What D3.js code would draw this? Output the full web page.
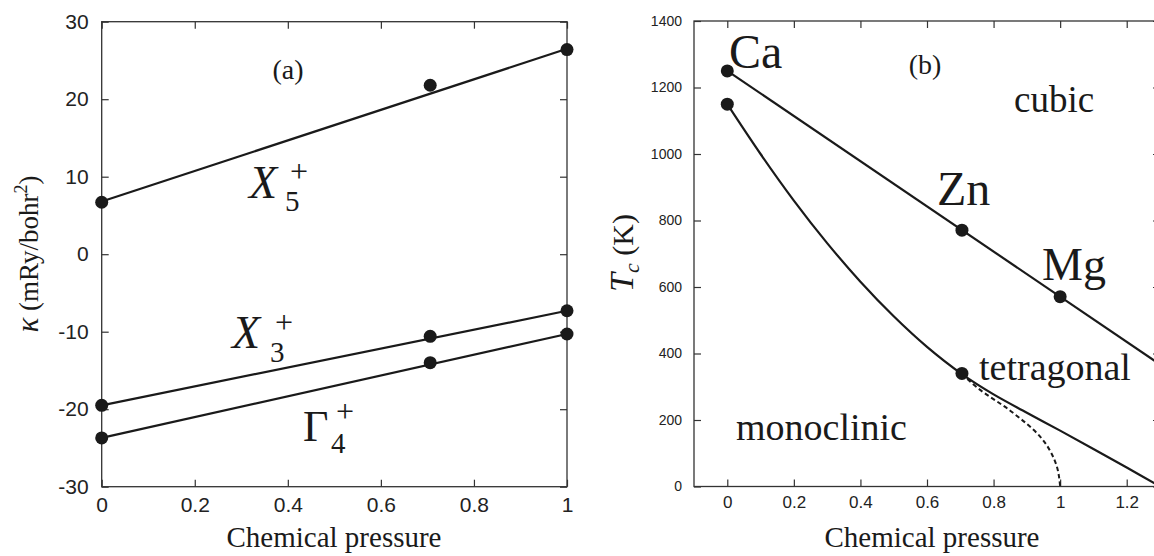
<!DOCTYPE html>
<html>
<head>
<meta charset="utf-8">
<script src="https://cdn.jsdelivr.net/npm/d3@7"></script>
<style>
  body { margin: 0; background: #fff; }
  svg { display: block; }
  .tick text { font-family: 'Liberation Sans', Arial, sans-serif; fill: #222; }
  .tick line { stroke: #333; stroke-width: 1.2; }
  .domain { display: none; }
  .lbl { font-family: 'Liberation Serif', 'DejaVu Serif', serif; fill: #1a1a1a; }
</style>
</head>
<body>
<svg id="chart" width="1154" height="556"></svg>
<script>
// panel (a): force constants vs chemical pressure
const pressureA = [0, 0.706, 1];
const kappaX5 = [6.7, 21.8, 26.4];
const kappaX3 = [-19.5, -10.6, -7.3];
const kappaG4 = [-23.7, -14.0, -10.3];
const fitX = [0, 1];
const fitX5 = [6.8, 26.5];
const fitX3 = [-19.5, -7.3];
const fitG4 = [-23.7, -10.3];
const ticksXA = [0, 0.2, 0.4, 0.6, 0.8, 1];
const ticksYA = [-30, -20, -10, 0, 10, 20, 30];

// panel (b): transition temperatures
const elements = ['Ca', 'Zn', 'Mg'];
const pressureB = [0, 0.705, 1];
const tcCubic = [1250, 771, 571];
const tcTetraX = [0, 0.705];
const tcTetra = [1150, 340];
const cubicLineX = [0, 1.3];
const cubicLineT = [1250, 367];
const tetraCurveX = [0, 0.1, 0.2, 0.3, 0.4, 0.5, 0.6, 0.705, 0.8, 0.9, 1.0, 1.1, 1.2, 1.3];
const tetraCurveT = [1150, 1000, 860, 732, 616, 512, 420, 338, 277, 222, 168, 113, 57, 0];
const monoCurveX = [0.705, 0.75, 0.85, 0.94, 0.985, 1.0];
const monoCurveT = [338, 298, 228, 150, 75, 0];
const ticksXB = [0, 0.2, 0.4, 0.6, 0.8, 1, 1.2];
const ticksYB = [0, 200, 400, 600, 800, 1000, 1200, 1400];

const svg = d3.select('#chart');
const fmt = (d) => d3.format('~g')(d).replace('\u2212', '-');

function frame(g, x, y, xTicks, yTicks, fsX, fsY, padX, padY) {
  const [x0, x1] = x.range();
  const [y0, y1] = y.range();
  g.append('g').attr('transform', `translate(0,${y0})`)
    .call(d3.axisBottom(x).tickValues(xTicks).tickFormat(fmt).tickSizeInner(-7).tickSizeOuter(0).tickPadding(padX))
    .selectAll('text').style('font-size', fsX + 'px');
  g.append('g').attr('transform', `translate(0,${y1})`)
    .call(d3.axisTop(x).tickValues(xTicks).tickFormat('').tickSizeInner(-7).tickSizeOuter(0));
  g.append('g').attr('transform', `translate(${x0},0)`)
    .call(d3.axisLeft(y).tickValues(yTicks).tickFormat(fmt).tickSizeInner(-7).tickSizeOuter(0).tickPadding(padY))
    .selectAll('text').style('font-size', fsY + 'px');
  g.append('g').attr('transform', `translate(${x1},0)`)
    .call(d3.axisRight(y).tickValues(yTicks).tickFormat('').tickSizeInner(-7).tickSizeOuter(0));
  g.append('rect').attr('x', x0).attr('y', y1).attr('width', x1 - x0).attr('height', y0 - y1)
    .attr('fill', 'none').attr('stroke', '#333').attr('stroke-width', 1.3);
}

function label(g, x, y, text, size, opts = {}) {
  return g.append('text').attr('class', 'lbl').attr('x', x).attr('y', y)
    .attr('text-anchor', opts.anchor || 'start')
    .style('font-size', size + 'px')
    .style('font-style', opts.italic ? 'italic' : 'normal')
    .text(text);
}

// ---------- panel (a)
const xA = d3.scaleLinear().domain([0, 1]).range([101.7, 567]);
const yA = d3.scaleLinear().domain([-30, 30]).range([486.7, 21.7]);
const gA = svg.append('g');
frame(gA, xA, yA, ticksXA, ticksYA, 21, 21, 10, 13);

const lineA = d3.line().x((d) => xA(d[0])).y((d) => yA(d[1]));
[fitX5, fitX3, fitG4].forEach((f) => {
  gA.append('path').datum(fitX.map((v, i) => [v, f[i]])).attr('d', lineA)
    .attr('fill', 'none').attr('stroke', '#1a1a1a').attr('stroke-width', 2.2);
});
[kappaX5, kappaX3, kappaG4].forEach((s) => {
  gA.selectAll(null).data(pressureA.map((v, i) => [v, s[i]])).join('circle')
    .attr('cx', (d) => xA(d[0])).attr('cy', (d) => yA(d[1])).attr('r', 6.5).attr('fill', '#1a1a1a');
});

label(gA, 288, 79, '(a)', 28, { anchor: 'middle' });
label(gA, 249, 198, 'X', 46, { italic: true });
label(gA, 285, 211, '5', 29);
label(gA, 290, 182, '+', 32);
label(gA, 232, 348, 'X', 46, { italic: true });
label(gA, 270, 362, '3', 29);
label(gA, 275, 333, '+', 32);
label(gA, 303, 441, 'Γ', 44);
label(gA, 331, 453, '4', 29);
label(gA, 336, 422, '+', 32);
label(gA, 334, 547, 'Chemical pressure', 29, { anchor: 'middle' });

const yLabA = gA.append('text').attr('class', 'lbl')
  .attr('transform', 'translate(38,254) rotate(-90)')
  .attr('text-anchor', 'middle').style('font-size', '27px');
yLabA.append('tspan').style('font-style', 'italic').style('font-size', '31px').text('κ');
yLabA.append('tspan').text(' (mRy/bohr');
yLabA.append('tspan').attr('dy', -11).style('font-size', '18px').text('2');
yLabA.append('tspan').attr('dy', 11).text(')');

// ---------- panel (b)
const xB = d3.scaleLinear().domain([-0.1, 1.3]).range([694, 1160]);
const yB = d3.scaleLinear().domain([0, 1400]).range([486.5, 21]);
const gB = svg.append('g');
svg.append('clipPath').attr('id', 'clipB').append('rect')
  .attr('x', 694).attr('y', 21).attr('width', 466).attr('height', 465.5);
frame(gB, xB, yB, ticksXB, ticksYB, 17, 14, 9, 12);

const lineB = d3.line().x((d) => xB(d[0])).y((d) => yB(d[1]));
const curves = gB.append('g').attr('clip-path', 'url(#clipB)');
curves.append('path').datum(cubicLineX.map((v, i) => [v, cubicLineT[i]])).attr('d', lineB)
  .attr('fill', 'none').attr('stroke', '#1a1a1a').attr('stroke-width', 2.2);
curves.append('path').datum(tetraCurveX.map((v, i) => [v, tetraCurveT[i]]))
  .attr('d', d3.line().x((d) => xB(d[0])).y((d) => yB(d[1])).curve(d3.curveCatmullRom.alpha(0.5)))
  .attr('fill', 'none').attr('stroke', '#1a1a1a').attr('stroke-width', 2.2);
curves.append('path').datum(monoCurveX.map((v, i) => [v, monoCurveT[i]]))
  .attr('d', d3.line().x((d) => xB(d[0])).y((d) => yB(d[1])).curve(d3.curveMonotoneY))
  .attr('fill', 'none').attr('stroke', '#1a1a1a').attr('stroke-width', 2).attr('stroke-dasharray', '4.5,3');

gB.selectAll(null).data(pressureB.map((v, i) => [v, tcCubic[i]])).join('circle')
  .attr('cx', (d) => xB(d[0])).attr('cy', (d) => yB(d[1])).attr('r', 6.5).attr('fill', '#1a1a1a');
gB.selectAll(null).data(tcTetraX.map((v, i) => [v, tcTetra[i]])).join('circle')
  .attr('cx', (d) => xB(d[0])).attr('cy', (d) => yB(d[1])).attr('r', 6.5).attr('fill', '#1a1a1a');

label(gB, 729, 68, elements[0], 48);
label(gB, 937, 205, elements[1], 48);
label(gB, 1042, 280, elements[2], 46);
label(gB, 925, 74, '(b)', 28, { anchor: 'middle' });
label(gB, 1014, 112, 'cubic', 37);
label(gB, 979, 380, 'tetragonal', 38);
label(gB, 736, 440, 'monoclinic', 38);
label(gB, 932, 547, 'Chemical pressure', 29, { anchor: 'middle' });

const yLabB = gB.append('text').attr('class', 'lbl')
  .attr('transform', 'translate(633,253) rotate(-90)')
  .attr('text-anchor', 'middle').style('font-size', '30px');
yLabB.append('tspan').style('font-style', 'italic').style('font-size', '34px').text('T');
yLabB.append('tspan').attr('dy', 6).style('font-style', 'italic').style('font-size', '22px').text('c');
yLabB.append('tspan').attr('dy', -6).text(' (K)');
</script>
</body>
</html>
